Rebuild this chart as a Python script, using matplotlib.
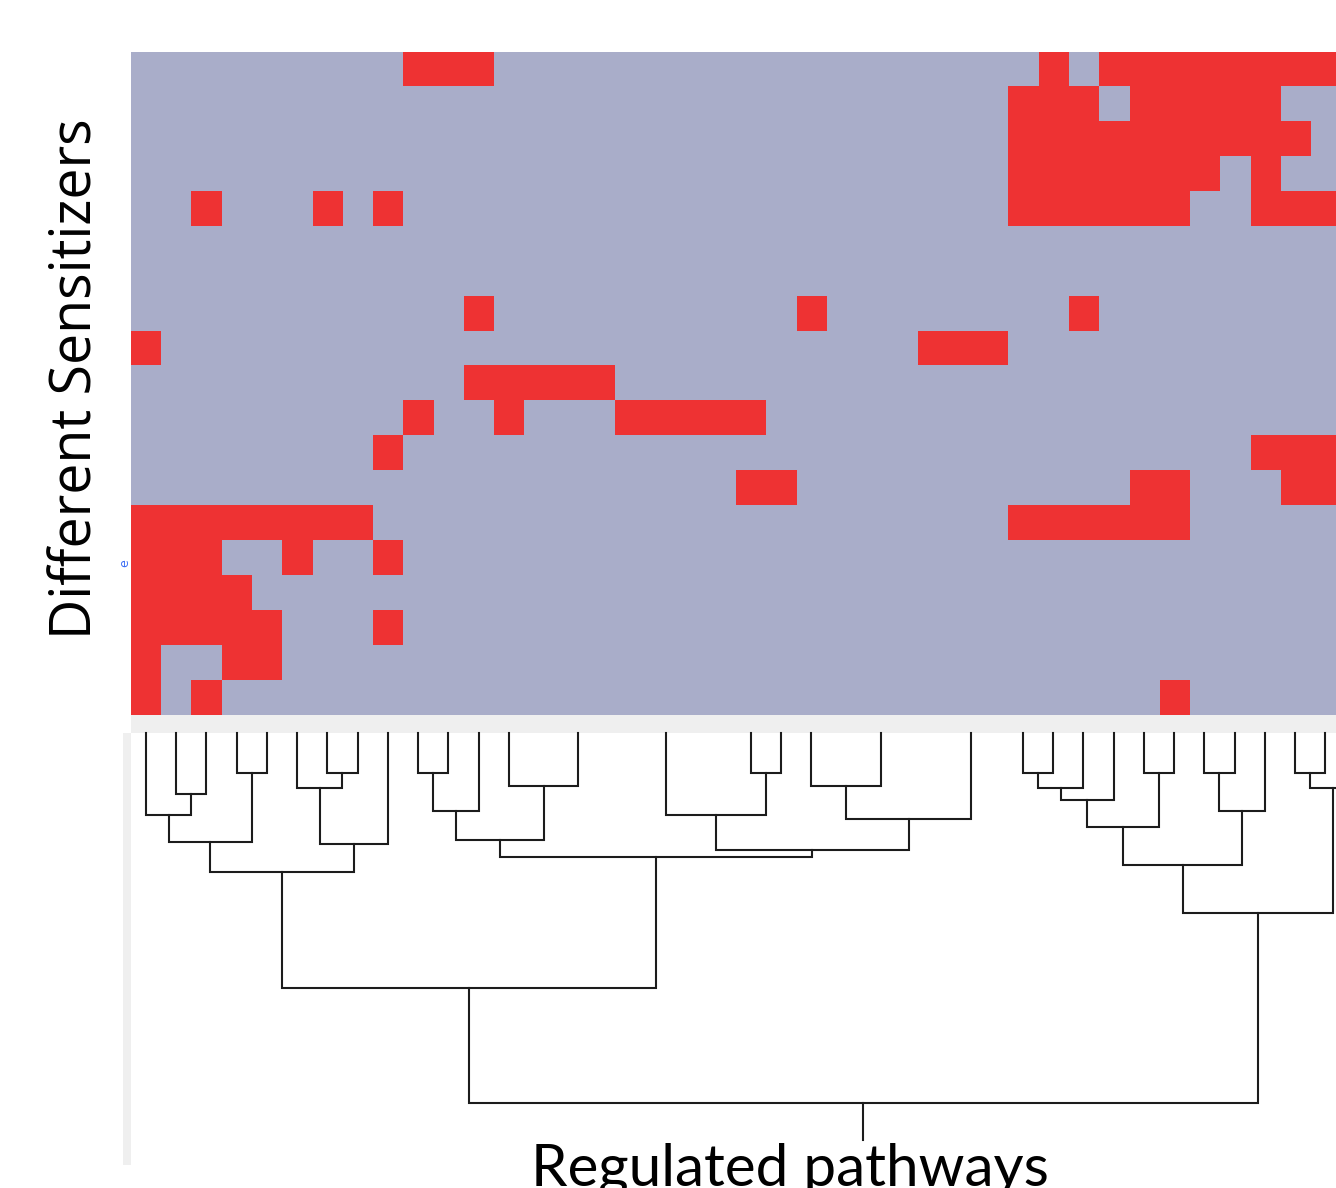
import numpy as np
import matplotlib.pyplot as plt
from matplotlib.colors import ListedColormap
from matplotlib.patches import Rectangle

# heatmap: for each sensitizer (row) the pathway columns that are "on" (red)
n_rows, n_cols = 19, 40
red_cells = [
    [9, 10, 11, 30, 32, 33, 34, 35, 36, 37, 38, 39],
    [29, 30, 31, 33, 34, 35, 36, 37],
    [29, 30, 31, 32, 33, 34, 35, 36, 37, 38],
    [29, 30, 31, 32, 33, 34, 35, 37],
    [2, 6, 8, 29, 30, 31, 32, 33, 34, 37, 38, 39],
    [],
    [],
    [11, 22, 31],
    [0, 26, 27, 28],
    [11, 12, 13, 14, 15],
    [9, 12, 16, 17, 18, 19, 20],
    [8, 37, 38, 39],
    [20, 21, 33, 34, 38, 39],
    [0, 1, 2, 3, 4, 5, 6, 7, 29, 30, 31, 32, 33, 34],
    [0, 1, 2, 5, 8],
    [0, 1, 2, 3],
    [0, 1, 2, 3, 4, 8],
    [0, 3, 4],
    [0, 2, 34],
]

# dendrogram leaves (column units) and merges (child a, child b, height)
leaf_pos = [0.5, 1.5, 2.5, 3.5, 4.5, 5.5, 6.5, 7.5, 8.5, 9.5, 10.5, 11.5, 12.5,
            14.8, 17.7, 20.5, 21.5, 22.5, 24.8, 27.8, 29.5, 30.5, 31.5, 32.5,
            33.5, 34.5, 35.5, 36.5, 37.5, 38.5, 39.5, 40.5]
merges = [
    (1, 2, 6.1), (0, 32, 8.2), (3, 4, 4.0), (33, 34, 10.9),
    (6, 7, 4.0), (5, 36, 5.5), (37, 8, 11.1), (35, 38, 13.9),
    (9, 10, 4.0), (40, 11, 7.8), (12, 13, 5.3), (41, 42, 10.7),
    (15, 16, 4.0), (14, 44, 8.2), (17, 18, 5.3), (46, 19, 8.6),
    (45, 47, 11.7), (43, 48, 12.4), (39, 49, 25.5),
    (20, 21, 4.0), (51, 22, 5.5), (52, 23, 6.7), (24, 25, 4.0),
    (53, 54, 9.4), (26, 27, 4.0), (56, 28, 7.8), (55, 57, 13.2),
    (29, 30, 4.0), (59, 31, 5.5), (58, 60, 18.0), (50, 61, 37.0),
]
root_stem = 40.7

W, H = 1336, 1188


def rect(x0, y0, x1, y1):
    return [x0 / W, 1 - y1 / H, (x1 - x0) / W, (y1 - y0) / H]


grid = np.zeros((n_rows, n_cols))
for r, cols in enumerate(red_cells):
    grid[r, cols] = 1

fig = plt.figure(figsize=(W / 100, H / 100), dpi=100)

x_right = (1336 - 130.8) / 30.24

ax = fig.add_axes(rect(130.8, 52, 1336, 715.1))
ax.imshow(grid, cmap=ListedColormap(['#a9adc9', '#ee3233']), aspect='auto',
          interpolation='nearest', extent=(0, n_cols, n_rows, 0), vmin=0, vmax=1)
ax.set_xlim(0, x_right)
ax.set_ylim(n_rows, 0)
ax.set_xticks([])
ax.set_yticks([])
for s in ax.spines.values():
    s.set_visible(False)

# dendrogram
axd = fig.add_axes(rect(130.8, 715.1, 1336, 1188))
axd.set_xlim(0, x_right)
axd.set_ylim(45.5, -1.79)
axd.axis('off')
axd.axhspan(-1.79, -0.03, color='#efefef', lw=0)

pos = list(leaf_pos)
hgt = [0.0] * len(leaf_pos)
lc = '#1c1c1c'
for a, b, h in merges:
    xa, xb = pos[a], pos[b]
    axd.plot([xa, xa, xb, xb], [hgt[a], h, h, hgt[b]], color=lc, lw=1.5,
             solid_joinstyle='miter')
    pos.append((xa + xb) / 2)
    hgt.append(h)
axd.plot([pos[-1], pos[-1]], [hgt[-1], root_stem], color=lc, lw=1.5)

# light gray strip left of the dendrogram
fig.patches.append(Rectangle((122.7 / W, 1 - 1165 / H), 8 / W, (1165 - 732.7) / H,
                             transform=fig.transFigure, color='#efefef', lw=0))

fig.text(125 / W, 1 - 563 / H, 'e', rotation=90, fontsize=9, color='#3d6ef5',
         ha='center', va='center')

fig.text(77 / W, 1 - 379 / H, 'Different Sensitizers', rotation=90,
         family=['Open Sans', 'DejaVu Sans'], fontsize=40,
         ha='center', va='center')
fig.text(790 / W, 1 - 1185 / H, 'Regulated pathways',
         family=['Lato', 'DejaVu Sans'], fontsize=42, ha='center', va='baseline')

fig.savefig('out.png', dpi=100)
